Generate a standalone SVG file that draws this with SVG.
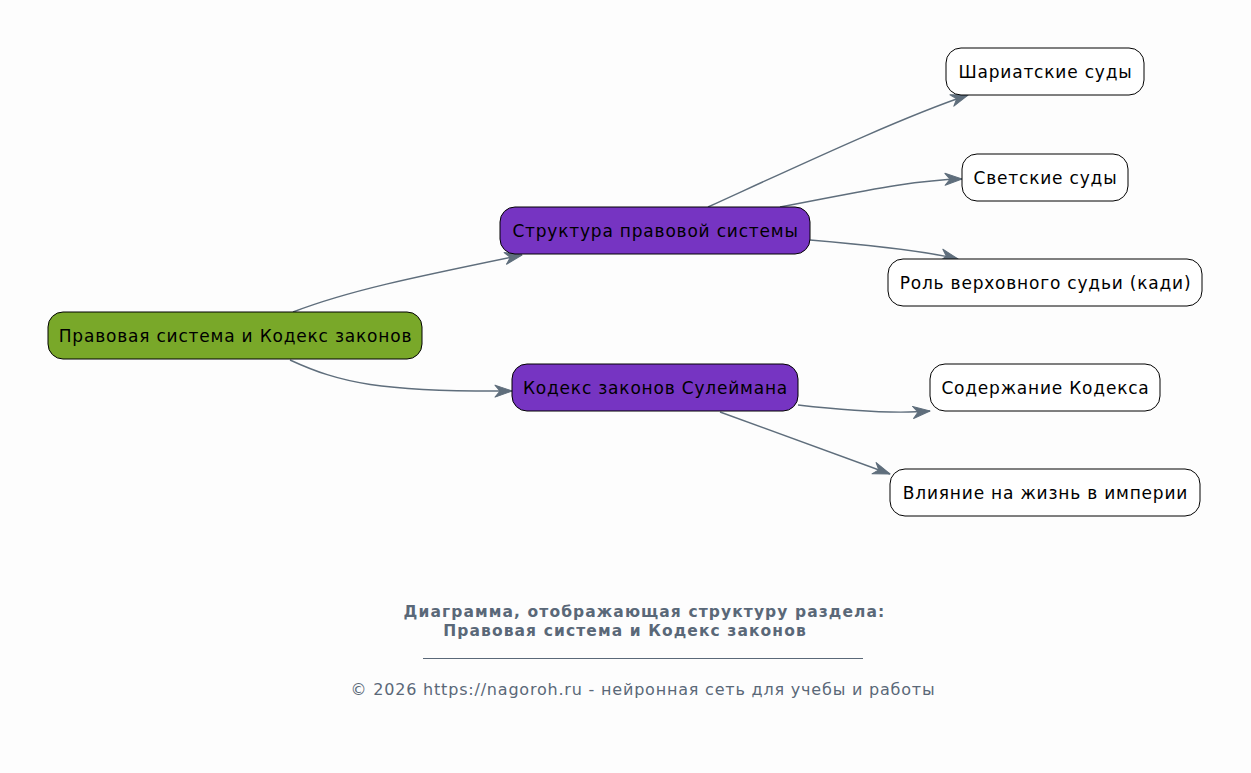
<svg xmlns="http://www.w3.org/2000/svg" width="1251" height="773" viewBox="0 0 1251 773">
<defs>
<style>
.node rect{stroke:#000;stroke-width:1}
.node text{font-family:"DejaVu Sans",sans-serif;font-size:17px;letter-spacing:0.8px;fill:#000;text-anchor:middle;dominant-baseline:central}
.root rect{fill:#79a829}
.mid rect{fill:#7634c2}
.leaf rect{fill:#fff}
.edge{fill:none;stroke:#5f6e7c;stroke-width:1.4}
.foot{font-family:"DejaVu Sans",sans-serif;fill:#5a6878;text-anchor:middle}
</style>
<marker id="arr" viewBox="0 0 20 14" refX="18" refY="7" markerWidth="20" markerHeight="14" markerUnits="userSpaceOnUse" orient="auto">
<path d="M1,1 L18,7 L1,13 L6,7 Z" fill="#5f6e7c" stroke="#5f6e7c" stroke-width="1" stroke-linejoin="round"/>
</marker>
</defs>
<rect width="1251" height="773" fill="#fdfdfd"/>
<g id="connectors">
<path class="edge" marker-end="url(#arr)" d="M293,312 C350,290 420,276 522,255"/>
<path class="edge" marker-end="url(#arr)" d="M290,360 C340,383 380,392 512,391"/>
<path class="edge" marker-end="url(#arr)" d="M708,207 C800,165 900,118 968,95"/>
<path class="edge" marker-end="url(#arr)" d="M780,207 C850,194 910,180 962,179"/>
<path class="edge" marker-end="url(#arr)" d="M810,240 C870,245 920,250 958,259"/>
<path class="edge" marker-end="url(#arr)" d="M798,405 C850,411 895,414 930,411"/>
<path class="edge" marker-end="url(#arr)" d="M720,412 L890,474"/>
</g>
<g id="n-root" class="node root"><rect x="48" y="312" width="374" height="47" rx="15"/><text x="235.5" y="335.5">Правовая система и Кодекс законов</text></g>
<g id="n-struct" class="node mid"><rect x="500" y="207" width="310" height="47" rx="15"/><text x="655.5" y="230.5">Структура правовой системы</text></g>
<g id="n-kodex" class="node mid"><rect x="512" y="364" width="286" height="47" rx="15"/><text x="655.5" y="387.5">Кодекс законов Сулеймана</text></g>
<g id="n-shariat" class="node leaf"><rect x="946" y="48" width="198" height="47" rx="15"/><text x="1045.5" y="71.5">Шариатские суды</text></g>
<g id="n-svet" class="node leaf"><rect x="962" y="154" width="166" height="47" rx="15"/><text x="1045.5" y="177.5">Светские суды</text></g>
<g id="n-rol" class="node leaf"><rect x="888" y="259" width="314" height="47" rx="15"/><text x="1045.5" y="282.5">Роль верховного судьи (кади)</text></g>
<g id="n-soderzh" class="node leaf"><rect x="930" y="364" width="230" height="47" rx="15"/><text x="1045.5" y="387.5">Содержание Кодекса</text></g>
<g id="n-vliyanie" class="node leaf"><rect x="890" y="469" width="310" height="47" rx="15"/><text x="1045.5" y="492.5">Влияние на жизнь в империи</text></g>
<g id="footer">
<text class="foot" x="644.5" y="617" font-size="15.5" font-weight="bold" letter-spacing="1.1">Диаграмма, отображающая структуру раздела:</text>
<text class="foot" x="625" y="636" font-size="15.5" font-weight="bold" letter-spacing="1.1">Правовая система и Кодекс законов</text>
<line x1="423" y1="658.5" x2="863" y2="658.5" stroke="#5a6878" stroke-width="1"/>
<text class="foot" x="643" y="695" font-size="16" letter-spacing="0.8">© 2026 https://nagoroh.ru - нейронная сеть для учебы и работы</text>
</g>
</svg>
